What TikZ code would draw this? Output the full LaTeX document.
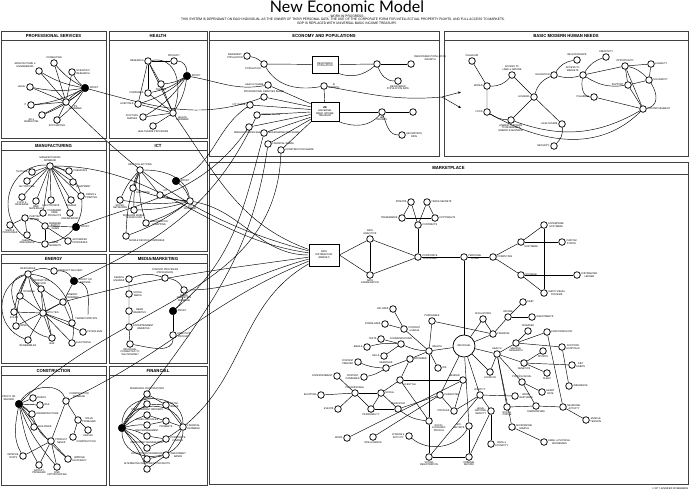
\documentclass[tikz,border=0pt]{standalone}
\usepackage{fontspec}
\setmainfont{TeX Gyre Heros}
\newfontfamily\ttlfont{Lato}
\usetikzlibrary{arrows.meta}
\pgfdeclarelayer{bgfill}\pgfdeclarelayer{back}\pgfdeclarelayer{mid}
\pgfsetlayers{bgfill,back,mid,main}
\tikzset{
 n/.style={circle,draw,line width=0.75pt,minimum size=6.6pt,inner sep=0pt,fill=white},
 pf/.style={circle,draw,fill=black,minimum size=7.6pt,inner sep=0pt},
 lab/.style={font=\fontsize{2.4}{2.7}\selectfont,align=center,inner sep=0.6pt},
 ed/.style={line width=0.45pt},
 pan/.style={line width=0.9pt,draw=black!75},
 ptitle/.style={font=\bfseries\fontsize{4.2}{5}\selectfont},
 boxn/.style={draw,line width=0.75pt,fill=white,font=\fontsize{2.4}{2.7}\selectfont,align=center,inner sep=0.5pt},
 sub/.style={font=\fontsize{3.2}{3.5}\selectfont,inner sep=0pt},
 arr/.style={ed,-{Stealth[length=3pt,width=2.4pt]}},
}
\newcommand\mkn[4]{\node[n,label={[lab]#3:{#4}}] (#1) at (#2) {};}
\newcommand\mkp[4]{\node[pf,label={[lab]#3:{#4}}] (#1) at (#2) {};}
\newcommand\mkpanel[7]{%
 \begin{pgfonlayer}{back}
 \draw[pan,fill=white] (#2,#3) rectangle (#4,#5);
 \draw[pan] (#2,#3+#6) -- (#4,#3+#6);
 \end{pgfonlayer}
 \node[ptitle] (#1) at ({(#2+#4)/2},{#3+#6/2}) {#7};}
\begin{document}
\begin{tikzpicture}[x=1pt,y=-1pt]
\useasboundingbox (0,0) rectangle (690,491);
\begin{pgfonlayer}{bgfill}
\fill[white] (0,0) rectangle (690,491);
\end{pgfonlayer}
% ---------- title ----------
\node[font=\ttlfont\fontsize{16}{16}\selectfont,inner sep=0pt,anchor=base] (title) at (347,12.6) {New Economic Model};
\node[sub] (st1) at (347,16.6) {- WORK IN PROGRESS -};
\node[sub] (st2) at (343,20.0) {THIS SYSTEM IS DEPENDANT ON EACH INDIVIDUAL AS THE OWNER OF THEIR PERSONAL DATA, THE USE OF THE CORPORATE FORM FOR INTELLECTUAL PROPERTY RIGHTS, AND FULL ACCESS TO MARKETS.};
\node[sub] (st3) at (347,23.4) {GDP IS REPLACED WITH UNIVERSAL BASIC INCOME TREASURY.};
\node[lab,anchor=east] (copy) at (689,488.5) {© 2017 JENNIFER ROSENBERG};
% ---------- panels ----------
\mkpanel{tPS}{1}{31}{106}{138}{9.5}{PROFESSIONAL SERVICES}
\mkpanel{tHE}{109}{31}{207}{138}{9.5}{HEALTH}
\mkpanel{tEC}{209}{31}{439}{156}{9.5}{ECONOMY AND POPULATIONS}
\mkpanel{tBN}{444}{31}{688}{156}{9.5}{BASIC MODERN HUMAN NEEDS}
\mkpanel{tMF}{1}{141}{106}{251}{9.5}{MANUFACTURING}
\mkpanel{tIC}{109}{141}{207}{251}{9.5}{ICT}
\mkpanel{tEN}{1}{254}{106}{363}{9.5}{ENERGY}
\mkpanel{tMD}{109}{254}{207}{363}{9.5}{MEDIA/MARKETING}
\mkpanel{tCO}{1}{366}{106}{485}{9.5}{CONSTRUCTION}
\mkpanel{tFI}{109}{366}{207}{485}{9.5}{FINANCIAL}
\mkpanel{tMP}{209}{162}{688}{484}{12}{MARKETPLACE}
% ---------- professional services ----------
\mkn{psCon}{54,63}{above}{CONSULTING}
\mkn{psArc}{39,71}{above left}{ARCHITECTURE \&\\ENGINEERING}
\mkn{psSci}{72,72}{right}{SCIENTIFIC\\RESEARCH}
\mkn{psLeg}{30,87}{left}{LEGAL}
\mkp{psP}{85,88}{right}{PROFIT}
\mkn{psHub}{66,102}{below right}{PS\\DATABANK}
\mkn{psIT}{31,105}{left}{IT}
\mkn{psAd}{42,115}{below left}{AD \&\\MARKETING}
\mkn{psAcc}{57,120}{below}{ACCOUNTING}
% ---------- health ----------
\mkn{hRes}{148,61}{left}{RESEARCH}
\mkn{hProd}{174,61}{above}{PRODUCT}
\mkp{hP}{187,76}{right}{PROFIT}
\mkn{hPh}{161,84}{below}{PHARMA}
\mkn{hCo}{148,93}{left}{COMPANIES}
\mkn{hHo}{138,104}{left}{HOSPITALS}
\mkn{hHub}{173,113}{below right}{HEALTH\\DATABANK}
\mkn{hDoc}{143,117}{left}{DOCTORS,\\NURSES}
\mkn{hPr}{153,126}{below}{HEALTHCARE PROVIDERS}
% ---------- ICT ----------
\mkn{iDC}{140,170}{above}{DATA COLLECTIONS}
\mkp{iP}{176,181}{right}{PROFIT}
\mkn{iSW}{133,188}{below right}{SOFTWARE}
\mkn{iIoT}{160,195}{above right}{IOT}
\mkn{iSN}{120,200}{below}{SOCIAL\\NETWORKS}
\mkn{iHub}{190,201}{below}{ICT\\DATABANK}
\mkn{iWM}{134,210}{below}{WIRELESS MOBILE\\TECHNOLOGY}
\mkn{iGeo}{146,223}{right}{GEOLOCATION\\\& MAPPING}
\mkn{iMob}{126,236}{below right}{MOBILE DEVICES COMPANIES}
% ---------- manufacturing ----------
\mkn{mfHub}{50,166}{above}{MANUFACTURING\\DATABANK}
\mkn{mfTex}{32,172}{left}{TEXTILES}
\mkn{mfChe}{69,171}{right}{CHEMICALS}
\mkn{mfAut}{27,181}{below}{AUTOMOTIVE}
\mkn{mfEqu}{73,182}{below right}{EQUIPMENT}
\mkn{mfFood}{22,197}{below}{FOOD \&\\BEVERAGE}
\mkn{mfRaw}{36,201}{below}{RAW\\MATERIALS}
\mkn{mfEle}{51,200}{below}{ELECTRONICS}
\mkn{mfPha}{71,200}{below}{PHARMA}
\mkn{mfPap}{81,196}{right}{PAPER \&\\PRINTING}
\mkn{mfCons}{43,213}{right}{CONSUMER\\CARE\\PRODUCTS}
\mkn{mfEng}{70,213}{below}{ENGINEERING}
\mkn{mfCus}{25,218}{right}{CUSTOM\\DESIGN}
\mkn{mfSim}{10,225}{below}{SIMPLE\\PROCESSES}
\mkn{mfBr}{45,226}{right}{BRANDED\\SUPPLY\\CHAIN}
\mkp{mfP}{76,227}{right}{PROFIT}
\mkn{mfQA}{27,235}{below}{QUALITY\\ASSURANCE}
\mkn{mfNM}{45,244}{right}{NEW\\MARKETS}
\mkn{mfAP}{68,241}{right}{AUTOMATED\\PROCESSES}
% ---------- energy ----------
\mkn{eRes}{28,274}{above}{RESOURCES}
\mkn{ePD}{54,271}{right}{PRODUCT DELIVERY}
\mkp{eP}{74,281}{right}{PROFIT OR\\SAVINGS}
\mkn{ePM}{41,289}{above}{PRODUCTION\\METHOD}
\mkn{eSt}{20,296}{above right}{STORAGE}
\mkn{eHub}{63,302}{above right}{ENERGY\\DATABANK}
\mkn{eSol}{14,312}{below}{SOLAR}
\mkn{eUt}{43,313}{right}{UTILITIES}
\mkn{eWi}{16,326}{right}{WIND}
\mkn{eTr}{72,323}{above right}{TRANSPORTATION}
\mkn{ePe}{83,332}{right}{PETROLEUM}
\mkn{eEl}{72,343}{right}{ELECTRICAL}
\mkn{eGas}{52,338}{below}{GAS}
\mkn{eRen}{28,340}{below}{RENEWABLES}
\coordinate (eArr) at (88,315);
% ---------- media ----------
\mkn{mSE}{129,279}{left}{SEARCH\\ENGINES}
\mkn{mCP}{165,278}{above}{CONTENT PROVIDERS\\(PRODUCERS)}
\mkn{mdHub}{184,290}{below}{MEDIA\\MARKETING\\DATABANK}
\mkn{mSM}{129,294}{right}{SOCIAL\\MEDIA}
\mkn{mNW}{129,311}{right}{NEWS\\WEBSITES}
\mkp{mdP}{173,311}{right}{PROFIT}
\mkn{mEW}{129,327}{right}{ENTERTAINMENT\\WEBSITES}
\mkn{mAP}{173,335}{right}{ANALYTICS\\PRODUCT}
\mkn{mInd}{130,344}{below}{INDIVIDUAL\\CONNECTED TO\\THE INTERNET}
% ---------- construction ----------
\mkp{cP}{19,404}{above left}{PROFIT OR\\SAVINGS}
\mkn{cRo}{33,398}{right}{ROADS}
\mkn{cRa}{40,405}{right}{RAIL}
\mkn{cIn}{32,414}{right}{INFRASTRUCTURE}
\mkn{cBu}{34,427}{right}{BUILDINGS}
\mkn{cHub}{66,401}{above right}{CONSTRUCTION\\DATABANK}
\mkn{cSP}{78,420}{right}{SOLVE\\PROBLEMS}
\mkn{cDe}{88,430}{below}{DESIGN}
\mkn{cCo}{73,437}{below right}{CONSTRUCTION}
\mkn{cPN}{51,441}{right}{PRODUCT\\NEEDS}
\mkn{cIC}{23,456}{left}{IMPROVE\\COSTS}
\mkn{cIE}{68,459}{right}{IMPROVE\\EFFICIENCY}
\mkn{cSa}{39,465}{below}{SATISFY\\PROBLEMS}
\mkn{cFO}{57,467}{below}{FIND\\OPPORTUNITIES}
% ---------- financial ----------
\mkp{fP}{122,428}{left}{}
\mkn{fHub}{183,427}{right}{FINANCIAL\\DATABANK}
\mkn{f1}{147,394}{above}{INSURANCE CORPORATIONS}
\mkn{f2}{147,404}{above}{BANKS}
\mkn{f3}{147,415}{above}{CREDIT MARKET BROKERS}
\mkn{f4}{147,425}{above}{FOREX AND SALES}
\mkn{f5}{147,436}{above}{RISK MANAGEMENT}
\mkn{f6}{147,448}{above}{INVESTMENT MANAGEMENT}
\mkn{f7}{147,459}{above}{ACCOUNTING/TRANSFERS}
\mkn{f8}{147,469}{above}{ALTERNATIVE INVESTMENT PRODUCTS}
\mkn{g1}{166,405}{right}{RETAIL\\BANKS}
\mkn{g2}{166,421}{below}{PAYMENTS}
\mkn{g3}{166,439}{right}{CORPORATE\\FINANCE}
\mkn{g4}{166,455}{right}{INVESTMENT\\BANKS}
% ---------- economy ----------
\mkn{ecImm}{247,56}{left}{IMMIGRANT\\POPULATION}
\mkn{ecPop}{264,64}{below left}{POPULATION}
\node[boxn,minimum width=26pt,minimum height=17pt] (rpop) at (325,64.5) {REGISTERED\\POPULATION};
\mkn{ecN1}{377,64}{right}{}
\mkn{ecRpg}{411,64}{above right}{REGISTERED POPULATION\\GROWTH}
\mkn{ecRpr}{398,81}{below}{REGISTERED\\POPULATION RATE}
\mkn{ecAI}{324,86}{right}{AI\\GROWTH}
\mkn{shH}{268,85}{left}{HEALTH SHARE}
\mkn{shPS}{264,97}{above}{PROFESSIONAL SERVICES SHARE}
\mkn{shI}{250,105}{left}{ICT SHARE}
\mkn{shE}{257,115}{right}{ENERGY SHARE}
\mkn{shM}{249,127}{below}{MANUFACTURING SHARE}
\mkn{shMd}{264,133}{right}{MEDIA/MARKETING SHARE}
\mkn{shF}{268,144}{right}{FINANCIAL SHARE}
\mkn{shC}{281,150}{right}{CONSTRUCTION SHARE}
\node[boxn,minimum width=28pt,minimum height=19pt] (ubi) at (325,112) {\textbf{UBI}\\UNIVERSAL\\BASIC INCOME\\TREASURY};
\mkn{ecUg}{382,112}{below}{UBI\\GROWTH}
\mkn{ecN2}{413,112}{right}{}
\mkn{ecUgr}{402,135}{right}{UBI GROWTH\\RATE}
\coordinate (split) at (442,97);
\coordinate (arA) at (461,92);
\coordinate (arB) at (461,108);
% ---------- basic needs ----------
\mkn{bClean}{472,61}{above}{CLEAN AIR}
\mkn{bWat}{487,86}{left}{WATER}
\mkn{bFood}{487,112}{left}{FOOD}
\mkn{bLand}{512,75}{above}{ACCESS TO\\LAND \& NATURE}
\mkn{bHou}{534,97}{left}{HOUSING}
\mkn{bEn}{511,120}{below}{ENERGY \& ACCESS\\TO RENEWABLE\\ENERGY EQUIPMENT}
\mkn{bEdu}{554,75}{left}{EDUCATION}
\mkn{bRel}{577,60}{above}{RELATIONSHIPS}
\mkn{bMkt}{583,75}{above left}{ACCESS TO\\MARKETS}
\mkn{bHc}{562,124}{left}{HEALTHCARE}
\mkn{bSec}{554,146}{left}{SECURITY}
\mkn{bPl}{594,97}{left}{PLEASURE}
\mkn{bCre}{606,57}{above}{CREATIVITY}
\mkn{bOpp}{625,66}{above}{OPPORTUNITY}
\mkn{bEq}{651,64}{right}{EQUALITY}
\mkn{bSol}{649,80}{right}{SOLIDARITY}
\mkn{bSup}{628,85}{left}{SUPPORT}
\mkn{bAcc}{643,109}{right}{ACCOMPLISHMENT}
% ---------- marketplace upper ----------
\node[boxn,minimum width=30pt,minimum height=22pt] (dd) at (324,255) {DATA\\DISTRIBUTION\\(MARKET)};
\mkn{maDA}{370,239}{above}{DATA\\ANALYTICS}
\mkn{maAG}{370,275}{below}{DATA\\AGGREGATION}
\mkn{maCC}{418,257}{right}{CORPORATE\\CONTAINER}
\mkn{maCon}{418,225}{right}{CONTRACTS}
\mkn{maTM}{402,218}{left}{TRADEMARKS}
\mkn{maCR}{435,218}{right}{COPYRIGHTS}
\mkn{maPat}{411,202}{left}{PATENTS}
\mkn{maTS}{427,202}{right}{TRADE SECRETS}
\mkn{maPC}{464,257}{right}{PERSONAL\\CLOUD}
\mkn{maCmp}{493,257}{right}{COMPUTING}
\mkn{maSW}{521,242}{below right}{SOFTWARE}
\mkn{maES}{544,225}{right}{ENTERPRISE\\SOFTWARE}
\mkn{maCP}{562,242}{right}{CUSTOM\\PORTAL}
\mkn{maST}{521,275}{right}{STORAGE}
\mkn{maDL}{577,275}{right}{DISTRIBUTED\\LEDGER}
\mkn{maAV}{544,293}{right}{AUDIO VISUAL\\SYSTEMS}
% ---------- marketplace lower ----------
\node[circle,draw,line width=0.75pt,minimum size=22pt,inner sep=0pt,fill=white,font=\fontsize{2.4}{2.7}\selectfont] (ind) at (464,346) {INDIVIDUAL};
\mkn{pur}{432,321}{above}{PURCHASES}
\mkn{upl}{393,309}{left}{UPLOADS}
\mkn{dow}{385,324}{left}{DOWNLOADS}
\mkn{cm}{404,329}{right}{CONTENT\\\& MEDIA}
\mkn{com}{401,344}{above}{COMMUNICATIONS}
\mkn{txt}{381,339}{left}{TEXTS}
\mkn{ema}{367,347}{left}{EMAILS}
\mkn{cal}{384,356}{left}{CALLS}
\mkn{wea}{429,351}{above right}{WEALTH}
\mkn{ids}{438,368}{right}{IDS}
\mkn{bro}{410,359}{right}{BROWSER}
\mkn{sea}{386,368}{above}{SEARCHES}
\mkn{cc}{358,362}{left}{CONTENT\\CREATED}
\mkn{ccon}{364,377}{left}{CONTENT\\CONSUMED}
\mkn{life}{400,380}{below right}{LIFESTYLE}
\mkn{ent}{337,376}{left}{ENTERTAINMENT}
\mkn{gen}{463,380}{above left}{GENDER}
\mkn{pro}{355,393}{above}{PROFESSIONAL}
\mkn{sho}{321,395}{left}{SHOPPING}
\mkn{soc}{381,393}{right}{SOCIAL}
\mkn{cha}{440,395}{right}{CHARACTER}
\mkn{evt}{338,409}{left}{EVENTS}
\mkn{per}{371,409}{below}{PERSONALITY}
\mkn{beh}{398,409}{above}{BEHAVIOUR}
\mkn{prf}{454,411}{left}{PROFILES}
\mkn{sep}{429,421}{below right}{SOCIO-\\ECONOMIC\\PROFILE}
\mkn{bio}{469,426}{left}{BIO-\\METRICS}
\mkn{wor}{347,438}{left}{WORK}
\mkn{int}{373,437}{below}{INTELLIGENCE}
\mkn{fit}{409,436}{left}{FITNESS \&\\ACTIVITY}
\mkn{vot}{429,457}{below}{VOTING\\REGISTRATION}
\mkn{cri}{469,457}{below}{CRIMINAL\\RECORD}
\mkn{aff}{483,319}{above}{AFFILIATIONS}
\mkn{deb}{523,302}{right}{DEBT}
\mkn{inc}{508,317}{above}{INCOME}
\mkn{inv}{532,317}{right}{INVESTMENTS}
\mkn{fin}{493,334}{right}{FINANCIAL}
\mkn{dis}{528,331}{above}{DISEASES}
\mkn{endo}{547,332}{right}{ENDOCRINOLOGY}
\mkn{med}{516,343}{below}{MEDICAL\\RESEARCH}
\mkn{hea}{497,354}{above}{HEALTH}
\mkn{spo}{543,351}{below}{SPORTS}
\mkn{doc}{562,347}{right}{DOCTORS/\\HOSPITALS}
\mkn{gene}{524,363}{below}{GENETICS}
\mkn{diet}{572,365}{right}{DIET\\HABITS}
\mkn{sle}{547,373}{below}{SLEEP}
\mkn{loc}{490,372}{below}{LOCATION}
\mkn{phy}{522,382}{above}{PHYSIOLOGICAL}
\mkn{hr}{542,392}{right}{HEART\\RATE}
\mkn{insu}{569,386}{right}{INSURANCE}
\mkn{idn}{480,395}{above}{IDENTITY}
\mkn{wg}{515,396}{right}{WORD\\GESTURES}
\mkn{sco}{507,407}{below}{SOCIAL\\CIRCLE}
\mkn{tem}{536,406}{below}{TEMPERATURE}
\mkn{neu}{563,407}{right}{NEURONAL\\ACTIVITY}
\mkn{mus}{586,420}{right}{MUSCLE\\TENSION}
\mkn{lni}{491,411}{left}{LEGAL\\NATIONAL\\IDENTITY}
\mkn{mic}{512,427}{right}{MICROBIOME\\SAMPLE}
\mkn{eph}{544,442}{right}{EMAIL \& PHYSICAL\\ADDRESSES}
\mkn{rac}{491,444}{right}{RACE \&\\ETHNICITY}
% ================= edges =================
\begin{pgfonlayer}{mid}
% PS
\foreach \a in {psCon,psArc,psSci,psLeg,psIT,psAd,psAcc} {\draw[ed] (psHub) -- (\a); \draw[ed] (psP) to[bend left=10] (\a);}
\draw[ed] (psHub) to[bend left=8] (psP); \draw[ed] (psHub) to[bend right=8] (psP);
% Health
\draw[ed] (hRes) -- (hProd); \draw[ed] (hProd) to[out=0,in=90] (hP);
\foreach \a in {hPh,hCo,hHo,hHub} {\draw[ed] (hRes) -- (\a);}
\draw[ed] (hRes) to[out=10,in=70,looseness=1.2] (hHub);
\foreach \a in {hPh,hCo,hHo,hDoc,hHub} {\draw[ed] (hP) to[bend left=12] (\a);}
\foreach \a in {hPh,hCo,hHo,hDoc,hPr} {\draw[ed] (hHub) -- (\a);}
% ICT
\foreach \a in {iSW,iSN,iWM,iGeo,iMob} {\draw[ed] (iDC) to[bend right=10] (\a);}
\draw[ed] (iDC) -- (iIoT);
\draw[ed] (iDC) to[out=0,in=100] (iHub);
\foreach \a in {iIoT,iSW,iSN,iWM,iGeo,iMob} {\draw[ed] (iHub) to[bend left=8] (\a);}
\draw[ed] (iP) to[bend left=15] (iHub);
% Manufacturing
\draw[ed] (45,204) ellipse [x radius=37, y radius=39];
\foreach \a in {mfTex,mfChe,mfAut,mfEqu,mfFood,mfRaw,mfEle,mfPha,mfPap,mfCons,mfEng} {\draw[ed] (mfHub) -- (\a);}
\draw[ed] (mfCus) -- (mfSim); \draw[ed] (mfCus) -- (mfQA); \draw[ed] (mfCus) to[bend left=20] (mfBr);
\draw[ed] (mfBr) -- (mfNM); \draw[ed] (mfBr) -- (mfAP); \draw[ed] (mfBr) -- (mfP);
% Energy
\draw[ed] (eRes) to[bend left=25] (ePD); \draw[ed] (ePD) to[bend left=30] (eP);
\draw[ed] (eP) -- (eHub);
\draw[ed] (eP) to[out=-10,in=90] (eArr);
\foreach \a in {ePM,eSt,eSol,eWi,eHub,eUt} {\draw[ed] (eRes) to[bend right=10] (\a);}
\draw[ed] (eRes) to[out=200,in=160,looseness=1.3] (eRen);
\draw[ed] (eRes) to[out=190,in=170,looseness=1.1] (eGas);
\draw[ed] (eRes) to[out=-5,in=80] (eEl);
\foreach \a in {ePM,eSt,eHub,eTr,ePe,eEl,eGas,eRen,eSol} {\draw[ed] (eUt) -- (\a);}
\draw[ed] (eHub) -- (eTr); \draw[ed] (eWi) -- (eHub); \draw[ed] (ePM) -- (eGas);
% Media
\draw[ed] (mSE) to[bend left=20] (mCP); \draw[ed] (mCP) to[bend left=25] (mdHub);
\draw[ed] (mSE) -- (mSM) -- (mNW) -- (mEW) -- (mInd);
\draw[ed] (mInd) to[out=-10,in=-90] (mAP); \draw[ed] (mAP) -- (mdP);
\draw[ed] (mdP) to[bend right=20] (mdHub);
% Construction
\foreach \a in {cRo,cRa,cIn,cBu} {\draw[ed] (cP) -- (\a);}
\draw[ed] (cP) to[out=60,in=110] (cHub);
\draw[ed] (cHub) -- (cSP); \draw[ed] (cSP) -- (cDe); \draw[ed] (cSP) -- (cCo); \draw[ed] (cHub) -- (cPN);
\foreach \a in {cIC,cIE,cSa,cFO} {\draw[ed] (cPN) -- (\a);}
\draw[ed] (cP) to[out=-100,in=120] (cIC);
\draw[ed] (cP) to[out=-80,in=120] (cSa);
\draw[ed] (cP) to[out=-70,in=130] (cFO);
\draw[ed] (cP) to[out=-50,in=140] (cIE);
\draw[ed] (cP) to[out=-30,in=150] (cPN);
% Financial
\foreach \a in {f1,f2,f3,f4,f5,f6,f7,f8} {\draw[ed] (fP) to[bend left=8] (\a);}
\draw[ed] (f1) -- (g1); \draw[ed] (f2) -- (g1); \draw[ed] (f3) -- (g2); \draw[ed] (f4) -- (g2);
\draw[ed] (f5) -- (g3); \draw[ed] (f6) -- (g3); \draw[ed] (f7) -- (g4); \draw[ed] (f8) -- (g4);
\foreach \a in {g1,g2,g3,g4} {\draw[ed] (\a) -- (fHub);}
\draw[ed] (fP) to[out=90,in=90,looseness=1.4] (fHub);
\draw[ed] (fP) to[out=-90,in=-90,looseness=1.4] (fHub);
\draw[ed] (fP) to[out=70,in=110,looseness=1.1] (fHub);
% Economy
\draw[ed] (ecImm) to[bend left=15] (ecPop); \draw[ed] (ecPop) -- (rpop);
\draw[ed] (rpop.south east) to[out=-20,in=220] (ecN1); \draw[ed] (rpop.east) -- (ecN1);
\draw[ed] (ecN1) -- (ecRpg); \draw[ed] (ecN1) to[out=-70,in=180] (ecRpr);
\draw[ed] (ecPop) to[out=-60,in=190] (ecAI); \draw[ed] (ecAI) -- (ubi);
\draw[ed] (ecAI) to[out=-10,in=185] (split);
\draw[arr] (split) -- (arA); \draw[arr] (split) -- (arB);
\draw[ed] (shH) -- (ubi.150); \draw[ed] (shPS) -- (ubi.160); \draw[ed] (shI) -- (ubi.170);
\draw[ed] (shE) -- (ubi.180); \draw[ed] (shM) -- (ubi.190); \draw[ed] (shMd) -- (ubi.200);
\draw[ed] (shF) -- (ubi.207); \draw[ed] (shC) -- (ubi.215);
\draw[ed] (ubi.east) -- (ecUg); \draw[ed] (ubi.south east) to[out=-20,in=230] (ecUg);
\draw[ed] (ecUg) -- (ecN2); \draw[ed] (ecUg) to[out=-70,in=180] (ecUgr);
% Basic needs
\draw[ed] (bClean) -- (bWat) -- (bFood);
\draw[ed] (bWat) to[bend right=25] (bLand); \draw[ed] (bLand) -- (bHou); \draw[ed] (bHou) -- (bEn);
\draw[ed] (bHou) to[bend left=25] (bEdu); \draw[ed] (bHou) -- (bHc);
\draw[ed] (bFood) to[bend right=15] (bEn); \draw[ed] (bHc) to[bend left=25] (bSec);
\draw[ed] (bEdu) to[bend left=25] (bRel); \draw[ed] (bEdu) to[bend right=15] (bMkt);
\draw[ed] (bMkt) to[bend left=20] (bCre); \draw[ed] (bMkt) -- (bOpp);
\draw[ed] (bMkt) to[bend right=20] (bSup); \draw[ed] (bMkt) to[out=-100,in=180] (bPl);
\draw[ed] (bPl) -- (bAcc); \draw[ed] (bOpp) -- (bEq) -- (bSol) -- (bSup);
\draw[ed] (bOpp) -- (bSup); \draw[ed] (bSup) -- (bAcc); \draw[ed] (bOpp) -- (bAcc);
\draw[ed] (bOpp) to[out=-10,in=10,looseness=1.2] (bAcc);
\draw[ed] (bFood) to[out=-30,in=-135] (bAcc);
\draw[ed] (bEn) to[out=-20,in=-150] (bAcc);
% Marketplace upper
\draw[ed] (dd.east) -- (maDA); \draw[ed] (dd.east) -- (maAG); \draw[ed] (maDA) -- (maAG);
\draw[ed] (maDA) -- (maCC); \draw[ed] (maAG) -- (maCC); \draw[ed] (maCC) -- (maCon);
\draw[ed] (maTM) -- (maCR); \draw[ed] (maPat) -- (maTM); \draw[ed] (maPat) -- (maCon);
\draw[ed] (maTS) -- (maCon); \draw[ed] (maTS) -- (maCR);
\draw[ed] (maCC) -- (maPC) -- (maCmp); \draw[ed] (maCmp) -- (maSW); \draw[ed] (maCmp) -- (maST);
\draw[ed] (maSW) -- (maES); \draw[ed] (maSW) -- (maCP); \draw[ed] (maST) -- (maDL);
\draw[ed] (maST) -- (maAV); \draw[ed] (maES) -- (maAV); \draw[ed] (maPC) -- (ind);
% Marketplace lower
\draw[ed] (pur) -- (fin); \draw[ed] (pur) -- (wea); \draw[ed] (wea) -- (sep); \draw[ed] (sep) -- (vot);
\foreach \a in {wea,aff,fin,hea,loc,idn,cha,bio} {\draw[ed] (ind) -- (\a);}
\draw[ed] (cm) -- (upl); \draw[ed] (cm) -- (dow); \draw[ed] (cm) -- (wea);
\draw[ed] (com) -- (txt); \draw[ed] (com) to[bend right=10] (ema); \draw[ed] (com) -- (cal);
\draw[ed] (com) to[bend right=10] (wea);
\draw[ed] (wea) -- (bro); \draw[ed] (wea) -- (ids);
\draw[ed] (bro) -- (sea); \draw[ed] (sea) to[bend left=10] (cc); \draw[ed] (sea) to[bend left=10] (ccon);
\draw[ed] (bro) -- (life); \draw[ed] (life) -- (gen); \draw[ed] (life) -- (soc); \draw[ed] (life) -- (sep);
\draw[ed] (pro) -- (ent); \draw[ed] (pro) -- (sho); \draw[ed] (pro) -- (evt); \draw[ed] (pro) -- (soc); \draw[ed] (pro) -- (per);
\draw[ed] (soc) -- (per); \draw[ed] (soc) -- (beh); \draw[ed] (per) -- (beh); \draw[ed] (beh) -- (cha);
\draw[ed] (beh) to[bend right=15] (sep);
\draw[ed] (cha) -- (prf); \draw[ed] (wor) -- (gen); \draw[ed] (int) -- (cha); \draw[ed] (prf) -- (idn); \draw[ed] (prf) -- (gen);
\draw[ed] (fit) to[out=-40,in=-120] (bio);
\draw[ed] (vot) -- (cri); \draw[ed] (cri) -- (bio); \draw[ed] (cri) -- (lni); \draw[ed] (vot) -- (idn);
\draw[ed] (fin) -- (inc); \draw[ed] (inc) -- (deb); \draw[ed] (inc) -- (inv); \draw[ed] (aff) -- (fin);
\foreach \a in {med,gene,phy,sco,mic,loc} {\draw[ed] (hea) -- (\a);}
\draw[ed] (med) -- (dis); \draw[ed] (med) -- (endo); \draw[ed] (med) -- (doc);
\draw[ed] (gene) -- (spo); \draw[ed] (gene) -- (diet); \draw[ed] (gene) -- (sle);
\draw[ed] (phy) -- (hr); \draw[ed] (phy) -- (tem); \draw[ed] (endo) -- (neu); \draw[ed] (doc) -- (insu);
\draw[ed] (sco) -- (tem) -- (neu); \draw[ed] (neu) -- (mus); \draw[ed] (mic) -- (eph);
\draw[ed] (idn) -- (wg); \draw[ed] (idn) -- (lni); \draw[ed] (lni) -- (rac);
% long connectors: databanks to data distribution
\draw[ed] (psHub) to[out=-45,in=165] (dd.165);
\draw[ed] (hHub) to[out=-55,in=160] (dd.160);
\draw[ed] (mfHub) to[out=0,in=172] (dd.172);
\draw[ed] (iHub) to[out=-10,in=180] (dd.180);
\draw[ed] (eHub) to[out=15,in=188] (dd.188);
\draw[ed] (mdHub) to[out=0,in=195] (dd.195);
\draw[ed] (cHub) to[out=25,in=202] (dd.202);
\draw[ed] (fHub) to[out=40,in=210] (dd.210);
% long connectors: profits to shares
\draw[ed] (psP) to[out=-15,in=200] (shPS);
\draw[ed] (hP) to[out=-10,in=190] (shH);
\draw[ed] (iP) to[out=25,in=215] (shI);
\draw[ed] (mfP) to[out=20,in=235] (shM);
\draw[ed] (eP) to[out=25,in=245] (shE);
\draw[ed] (mdP) to[out=40,in=255] (shMd);
\draw[ed] (fP) to[out=55,in=262] (shF);
\draw[ed] (cP) to[out=45,in=268] (shC);
\end{pgfonlayer}
\end{tikzpicture}
\end{document}
